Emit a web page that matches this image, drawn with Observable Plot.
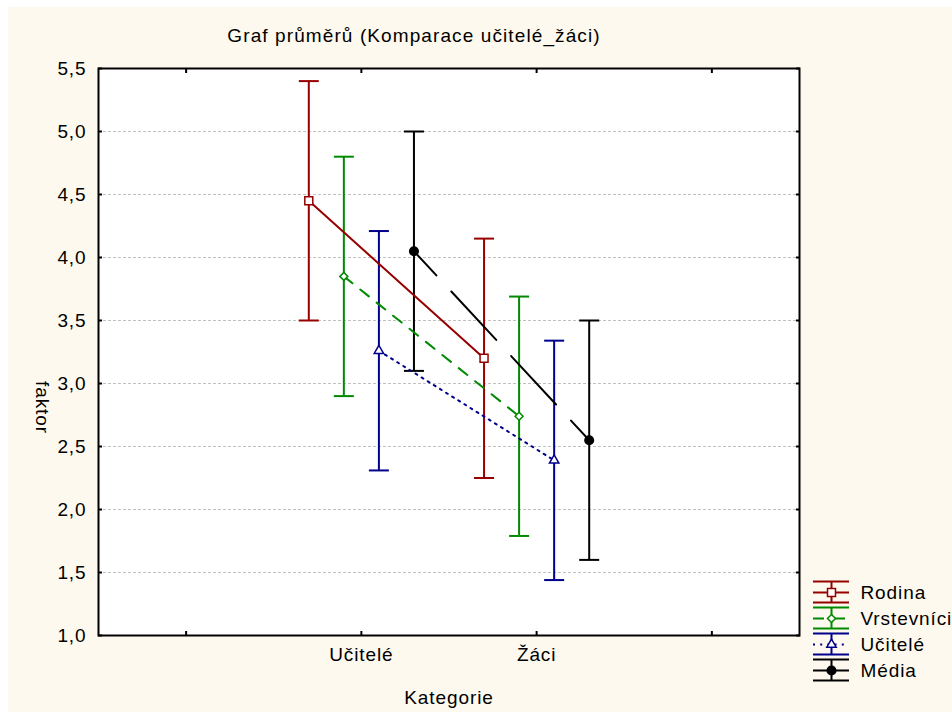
<!DOCTYPE html>
<html><head><meta charset="utf-8">
<script src="https://cdn.jsdelivr.net/npm/d3@7"></script>
<script src="https://cdn.jsdelivr.net/npm/@observablehq/plot@0.6"></script>
<style>
html,body{margin:0;padding:0;background:#fff;width:952px;height:712px;overflow:hidden;}
#panel{position:absolute;left:8px;top:7px;width:944px;height:705px;background:#fef9ee;}
#chart{position:absolute;left:0;top:0;}
#legend{position:absolute;left:813px;top:575px;}
svg text{letter-spacing:0.9px;}
svg .title-mark text{letter-spacing:1.1px;}
</style></head><body>
<div id="panel"></div><div id="chart"></div><div id="legend"></div>
<script>
// ---- data ----
const categories = ["Učitelé", "Žáci"];
const seriesNames = ["Rodina", "Vrstevníci", "Učitelé", "Média"];
const rodinaMean = [4.45, 3.20];
const rodinaLow = [3.50, 2.25];
const rodinaHigh = [5.40, 4.15];
const vrstevniciMean = [3.85, 2.74];
const vrstevniciLow = [2.90, 1.79];
const vrstevniciHigh = [4.80, 3.69];
const uciteleMean = [3.26, 2.39];
const uciteleLow = [2.31, 1.44];
const uciteleHigh = [4.21, 3.34];
const mediaMean = [4.05, 2.55];
const mediaLow = [3.10, 1.60];
const mediaHigh = [5.00, 3.50];
const yTicks = [1.0, 1.5, 2.0, 2.5, 3.0, 3.5, 4.0, 4.5, 5.0, 5.5];
const xTicks = [1, 2, 3, 4];
const titleText = "Graf průměrů (Komparace učitelé_žáci)";
const xLabel = "Kategorie";
const yLabel = "faktor";

// ---- build table ----
const means = [rodinaMean, vrstevniciMean, uciteleMean, mediaMean];
const lows = [rodinaLow, vrstevniciLow, uciteleLow, mediaLow];
const highs = [rodinaHigh, vrstevniciHigh, uciteleHigh, mediaHigh];
const catPos = categories.map((c, i) => i + 2);
const rows = [];
seriesNames.forEach((s, si) => categories.forEach((c, ci) => rows.push({
  series: s, category: c,
  x: catPos[ci] + (si - 1.5) * 0.2,
  mean: means[si][ci], low: lows[si][ci], high: highs[si][ci]
})));

const styles = {
  "Rodina":     {color: "#960000", dash: null, offset: 0, symbol: "square", r: 4.5, fill: "white", width: 2},
  "Vrstevníci": {color: "#008a00", dash: "11,10", offset: 0, symbol: "diamond2", r: 3.6, fill: "white", width: 2},
  "Učitelé":    {color: "#00008c", dash: "2,5.2", offset: 0, symbol: "triangle", r: 3.5, fill: "white", width: 2},
  "Média":      {color: "#000000", dash: "66,22", offset: 33, symbol: "circle", r: 4.3, fill: "black", width: 2}
};

const cap = {draw(ctx) { ctx.moveTo(-10, 0); ctx.lineTo(10, 0); }};
const vbar = {draw(ctx) { ctx.moveTo(0, -11); ctx.lineTo(0, 10); }};
const fmt = d => d.toFixed(1).replace(".", ",");
const font = "'Liberation Sans', Arial, sans-serif";
const fs = 19;

const seriesMarks = [];
for (const s of seriesNames) {
  const st = styles[s];
  const data = rows.filter(d => d.series === s);
  seriesMarks.push(
    Plot.ruleX(data, {x: "x", y1: "low", y2: "high", stroke: st.color, strokeWidth: 2}),
    Plot.dot(data, {x: "x", y: "low", symbol: cap, stroke: st.color, strokeWidth: 2, r: 1}),
    Plot.dot(data, {x: "x", y: "high", symbol: cap, stroke: st.color, strokeWidth: 2, r: 1})
  );
}
const lineMarks = [];
const dotMarks = [];
for (const s of seriesNames) {
  const st = styles[s];
  const data = rows.filter(d => d.series === s);
  lineMarks.push(Plot.line(data, {x: "x", y: "mean", stroke: st.color, strokeWidth: st.width,
    strokeDasharray: st.dash, strokeDashoffset: st.offset}));
  dotMarks.push(Plot.dot(data, {x: "x", y: "mean", symbol: st.symbol, r: st.r, fill: st.fill,
    stroke: st.color, strokeWidth: 1.5}));
}

const chart = Plot.plot({
  width: 952, height: 712,
  marginLeft: 98, marginRight: 153, marginTop: 68, marginBottom: 77,
  style: {background: "transparent", fontFamily: font, fontSize: fs + "px", color: "#000"},
  x: {domain: [0.5, 4.5], axis: null},
  y: {domain: [1, 5.5], axis: null},
  marks: [
    Plot.frame({fill: "white"}),
    Plot.gridY(yTicks.slice(1, -1), {stroke: "#c0c0c0", strokeOpacity: 1, strokeDasharray: "3,2"}),
    Plot.axisY(yTicks, {anchor: "left", tickSize: 0, tickPadding: 12, tickFormat: fmt, label: null, fontSize: fs}),
    Plot.axisY(yTicks, {anchor: "left", tickSize: -4, tickFormat: () => "", label: null, strokeWidth: 2}),
    Plot.axisY(yTicks, {anchor: "right", tickSize: -4, tickFormat: () => "", label: null, strokeWidth: 2}),
    Plot.axisX(catPos, {anchor: "bottom", tickSize: 0, tickPadding: 12, tickFormat: d => categories[catPos.indexOf(d)], label: null, fontSize: fs}),
    Plot.axisX(xTicks, {anchor: "bottom", tickSize: -4, tickFormat: () => "", label: null, strokeWidth: 2}),
    Plot.axisX(xTicks, {anchor: "top", tickSize: -4, tickFormat: () => "", label: null, strokeWidth: 2}),
    ...seriesMarks,
    ...lineMarks,
    ...dotMarks,
    Plot.frame({stroke: "black", strokeWidth: 2}),
    Plot.text([titleText], {frameAnchor: "top", dx: -35, dy: -33, lineAnchor: "middle", fontSize: 19, className: "title-mark"}),
    Plot.text([xLabel], {frameAnchor: "bottom", dy: 62, lineAnchor: "middle", fontSize: fs}),
    Plot.text([yLabel], {frameAnchor: "left", dx: -56, dy: 29, rotate: 90, fontSize: fs})
  ]
});
document.getElementById("chart").appendChild(chart);

// ---- legend ----
const legRows = seriesNames.map(s => ({series: s}));
const legMarks = [];
for (const s of seriesNames) {
  const st = styles[s];
  const d = legRows.filter(r => r.series === s);
  legMarks.push(
    Plot.ruleY(d, {y: "series", dy: -11, stroke: st.color, strokeWidth: 2}),
    Plot.ruleY(d, {y: "series", dy: 10, stroke: st.color, strokeWidth: 2}),
    Plot.ruleY(d, {y: "series", stroke: st.color, strokeWidth: 2, strokeDasharray: s === "Média" ? null : st.dash}),
    Plot.dot(d, {y: "series", symbol: vbar, stroke: st.color, strokeWidth: 2, r: 1}),
    Plot.dot(d, {y: "series", symbol: st.symbol, r: st.r, fill: st.fill, stroke: st.color, strokeWidth: 1.5})
  );
}
const legend = Plot.plot({
  width: 139, height: 110,
  marginLeft: 0, marginRight: 103, marginTop: 0, marginBottom: 0,
  style: {background: "transparent", fontFamily: font, fontSize: fs + "px", color: "#000", overflow: "visible"},
  y: {type: "point", domain: seriesNames, range: [16, 95], padding: 0, axis: null},
  marks: [
    ...legMarks,
    Plot.text(legRows, {y: "series", text: "series", frameAnchor: "right", textAnchor: "start", dx: 11, fontSize: fs})
  ]
});
document.getElementById("legend").appendChild(legend);
</script>
</body></html>
